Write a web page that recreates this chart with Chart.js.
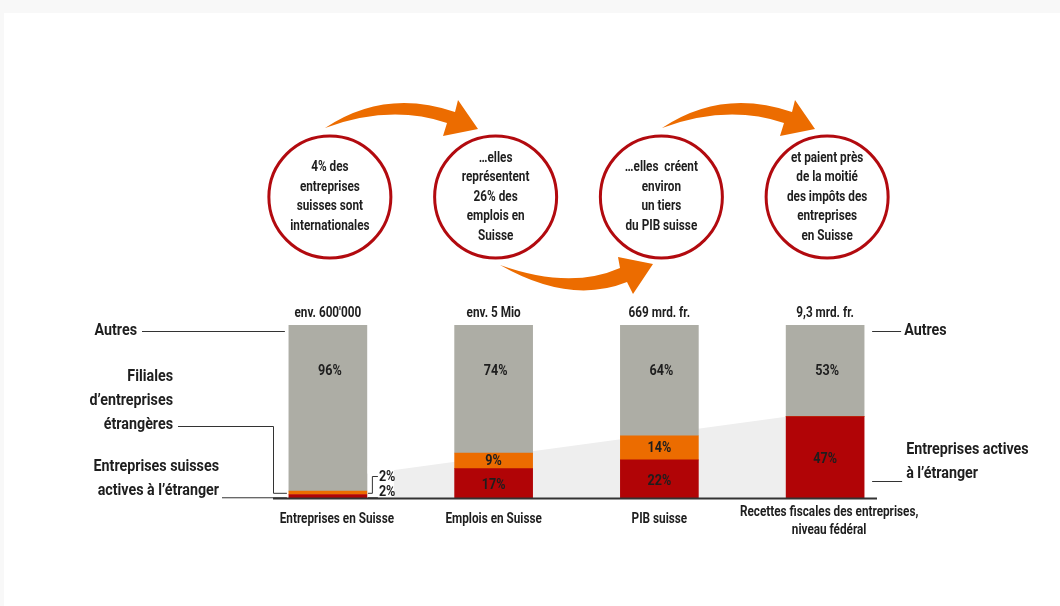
<!DOCTYPE html>
<html>
<head>
<meta charset="utf-8">
<script src="https://cdn.jsdelivr.net/npm/chart.js@4.4.1/dist/chart.umd.min.js"></script>
<style>
  html, body { margin: 0; padding: 0; background: #f8f8f8; }
  #wrap { position: absolute; left: 0; top: 0; width: 1060px; height: 606px; }
</style>
</head>
<body>
<div id="wrap"><canvas id="chart" width="1060" height="606"></canvas></div>
<script>
// --- data ---
const categories = [
  ['Entreprises en Suisse'],
  ['Emplois en Suisse'],
  ['PIB suisse'],
  ['Recettes fiscales des entreprises,', 'niveau fédéral']
];
const totals = ["env. 600'000", 'env. 5 Mio', '669 mrd. fr.', '9,3 mrd. fr.'];
const swissAbroad = [2, 17, 22, 47];   // Entreprises suisses actives à l'étranger
const foreignSubs = [2, 9, 14, 0];     // Filiales d'entreprises étrangères
const others = [96, 74, 64, 53];       // Autres
const bubbleTexts = [
  ['4% des', 'entreprises', 'suisses sont', 'internationales'],
  ['…elles', 'représentent', '26% des', 'emplois en', 'Suisse'],
  ['…elles  créent', 'environ', 'un tiers', 'du PIB suisse'],
  ['et paient près', 'de la moitié', 'des impôts des', 'entreprises', 'en Suisse']
];

const RED = '#b10406';
const ORANGE = '#ec6c00';
const GREY = '#adada5';
const INK = '#1e1e1e';
const FONT = 'Roboto, "Liberation Sans", sans-serif';
const SQUEEZE = 0.84; // no narrow face installed, so squeeze a regular one

function text(ctx, str, x, y, size, align, weight) {
  ctx.save();
  ctx.font = `${weight || 'bold'} ${size}px ${FONT}`;
  ctx.fillStyle = INK;
  ctx.textAlign = align || 'center';
  ctx.textBaseline = 'middle';
  ctx.translate(x, y);
  ctx.scale(SQUEEZE, 1);
  ctx.fillText(str, 0, 0);
  ctx.restore();
}

function line(ctx, pts, color, width) {
  ctx.beginPath();
  ctx.moveTo(pts[0][0], pts[0][1]);
  for (let i = 1; i < pts.length; i++) ctx.lineTo(pts[i][0], pts[i][1]);
  ctx.strokeStyle = color || '#333';
  ctx.lineWidth = width || 1;
  ctx.stroke();
}

// curved arrow: tail, upper control, neck top, head top, tip, head bottom, neck bottom, lower control
function arrow(ctx, a, dx) {
  const p = a.map(q => [q[0] + dx, q[1]]);
  ctx.beginPath();
  ctx.moveTo(p[0][0], p[0][1]);
  ctx.quadraticCurveTo(p[1][0], p[1][1], p[2][0], p[2][1]);
  ctx.lineTo(p[3][0], p[3][1]);
  ctx.lineTo(p[4][0], p[4][1]);
  ctx.lineTo(p[5][0], p[5][1]);
  ctx.lineTo(p[6][0], p[6][1]);
  ctx.quadraticCurveTo(p[7][0], p[7][1], p[0][0], p[0][1]);
  ctx.closePath();
  ctx.fillStyle = ORANGE;
  ctx.fill();
}

const arrowUp = [[325,128],[385,88],[455,112],[458,100],[478,129],[443,136],[447,123],[390,104]];
const arrowDown = [[500,265],[570,290],[620,268],[618,257],[653,264],[633,294],[627,282],[570,305]];

const scene = {
  id: 'scene',
  beforeDraw(chart) {
    const ctx = chart.ctx;
    ctx.save();
    ctx.fillStyle = '#f8f8f8';
    ctx.fillRect(0, 0, chart.width, chart.height);
    ctx.fillStyle = '#ffffff';
    ctx.fillRect(4, 13, chart.width - 4, chart.height - 13);
    ctx.restore();
  },
  beforeDatasetsDraw(chart) {
    // light wedge rising towards the last bar's international share
    const ctx = chart.ctx, y = chart.scales.y;
    const m = chart.getDatasetMeta(0);
    const b0 = m.data[0], b3 = m.data[3];
    const x0 = b0.x + b0.width / 2, x1 = b3.x - b3.width / 2;
    const base = y.getPixelForValue(0);
    ctx.save();
    ctx.beginPath();
    ctx.moveTo(x0, y.getPixelForValue(14));
    ctx.lineTo(x1, y.getPixelForValue(swissAbroad[3] + foreignSubs[3]));
    ctx.lineTo(x1, base);
    ctx.lineTo(x0, base);
    ctx.closePath();
    ctx.fillStyle = '#eeeeee';
    ctx.fill();
    ctx.restore();
  },
  afterDatasetsDraw(chart) {
    const ctx = chart.ctx, x = chart.scales.x, y = chart.scales.y;
    const bars = chart.getDatasetMeta(0).data;
    const base = y.getPixelForValue(0);
    ctx.save();

    // baseline
    line(ctx, [[273, base + 0.5], [877, base + 0.5]], '#333', 2);

    categories.forEach((c, i) => {
      const cx = x.getPixelForValue(i);
      // total above bar
      text(ctx, totals[i], cx, y.getPixelForValue(100) - 12, 14);
      // percentages inside
      text(ctx, others[i] + '%', cx + 2, y.getPixelForValue(73.5), 15);
      if (swissAbroad[i] > 5) text(ctx, swissAbroad[i] + '%', cx, y.getPixelForValue(swissAbroad[i] / 2) + 2, 15);
      if (foreignSubs[i] > 5) text(ctx, foreignSubs[i] + '%', cx, y.getPixelForValue(swissAbroad[i] + foreignSubs[i] / 2), 15);
      // category labels
      const y0 = c.length > 1 ? base + 14 : base + 21;
      c.forEach((l, k) => text(ctx, l, cx + (i === 0 ? 9 : i === 3 ? 4 : 0), y0 + k * 18, 14));
    });

    // small 2% brackets on first bar
    const r0 = bars[0].x + bars[0].width / 2;
    const yOr = y.getPixelForValue(swissAbroad[0] + foreignSubs[0] / 2);
    const yRd = y.getPixelForValue(swissAbroad[0] / 2);
    ctx.fillStyle = '#ffffff';
    ctx.fillRect(r0 + 1, 466, 26, base - 467);
    line(ctx, [[r0 + 1, yOr + 0.5], [r0 + 5.5, yOr + 0.5], [r0 + 5.5, 476.5], [r0 + 11, 476.5]], '#333', 1);
    line(ctx, [[r0 + 1, yRd + 1.5], [r0 + 11, yRd + 1.5]], '#333', 1);
    text(ctx, foreignSubs[0] + '%', r0 + 12, 477, 15, 'left');
    text(ctx, swissAbroad[0] + '%', r0 + 12, 492, 15, 'left');

    // left legend
    const l0 = bars[0].x - bars[0].width / 2;
    text(ctx, 'Autres', 137, 331, 17, 'right');
    line(ctx, [[142, 331.5], [l0 - 4, 331.5]], '#333', 1);
    ['Filiales', 'd’entreprises', 'étrangères'].forEach((s, k) => text(ctx, s, 173, 377 + k * 24, 17, 'right'));
    line(ctx, [[178, 426.5], [273.5, 426.5], [273.5, yOr + 0.5], [l0 - 2, yOr + 0.5]], '#333', 1);
    ['Entreprises suisses', 'actives à l’étranger'].forEach((s, k) => text(ctx, s, 219, 467 + k * 24, 17, 'right'));
    line(ctx, [[222, yRd + 1.5], [l0 - 2, yRd + 1.5]], '#333', 1);

    // right legend
    const r3 = bars[3].x + bars[3].width / 2;
    line(ctx, [[r3 + 8, 331.5], [r3 + 37, 331.5]], '#333', 1);
    text(ctx, 'Autres', r3 + 40, 331, 17, 'left');
    text(ctx, 'Entreprises actives', r3 + 42, 450, 17, 'left');
    text(ctx, 'à l’étranger', r3 + 42, 474, 17, 'left');
    line(ctx, [[r3 + 8, 481.5], [r3 + 38, 481.5]], '#333', 1);

    // bubbles
    bubbleTexts.forEach((t, i) => {
      const cx = x.getPixelForValue(i) + 2, cy = 197;
      ctx.beginPath();
      ctx.arc(cx, cy, 61, 0, Math.PI * 2);
      ctx.fillStyle = '#fff';
      ctx.fill();
      ctx.strokeStyle = '#b20a0f';
      ctx.lineWidth = 3;
      ctx.stroke();
      const start = cy - (t.length - 1) * 19.5 / 2;
      t.forEach((s, k) => text(ctx, s, cx, start + k * 19.5, 14));
    });

    // arrows
    arrow(ctx, arrowUp, 0);
    arrow(ctx, arrowDown, 0);
    arrow(ctx, arrowUp, 337);

    ctx.restore();
  }
};

new Chart(document.getElementById('chart'), {
  type: 'bar',
  data: {
    labels: categories,
    datasets: [
      { label: 'Entreprises suisses actives à l’étranger', data: swissAbroad, backgroundColor: RED },
      { label: 'Filiales d’entreprises étrangères', data: foreignSubs, backgroundColor: ORANGE },
      { label: 'Autres', data: others, backgroundColor: GREY }
    ]
  },
  options: {
    responsive: false,
    animation: false,
    layout: { padding: { left: 245, right: 152, top: 325, bottom: 108 } },
    datasets: { bar: { barThickness: 78, borderWidth: 0 } },
    scales: {
      x: { display: false, stacked: true },
      y: { display: false, stacked: true, min: 0, max: 100 }
    },
    plugins: { legend: { display: false }, tooltip: { enabled: false } }
  },
  plugins: [scene]
});
</script>
</body>
</html>
